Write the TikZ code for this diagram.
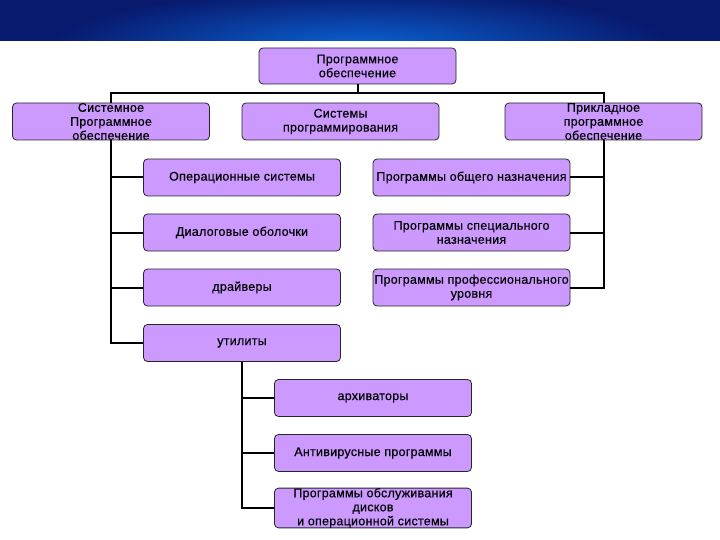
\documentclass[tikz,border=0pt]{standalone}
\usepackage{fontspec}
\setmainfont{Liberation Sans}[LetterSpace=2, FakeBold=0.4]
\usetikzlibrary{positioning}
\definecolor{boxfill}{RGB}{204,153,255}
\definecolor{navy}{RGB}{8,26,110}
\definecolor{lightblue}{RGB}{10,100,215}
\tikzset{
	box/.style={draw=black!85, line width=0.8pt, fill=boxfill, rounded corners=4pt,
		minimum height=37pt, inner xsep=1pt, inner ysep=0pt, align=center,
		font=\fontsize{12.5}{14}\selectfont},
	wide/.style={box, minimum width=197pt},
	conn/.style={line width=2pt, black}
}
\begin{document}
\begin{tikzpicture}[x=1pt, y=-1pt, node distance=55pt]
	\useasboundingbox (0,0) rectangle (720,540);
	% banner
	\fill[navy] (0,0) rectangle (720,41);
	\begin{scope}
		\clip (0,0) rectangle (720,41);
		\shade[inner color=lightblue, outer color=navy] (360,48) ellipse [x radius=310pt, y radius=58pt];
	\end{scope}

	\node (1) [wide, minimum height=36pt] at (357.5,66) {Программное\\обеспечение};
	\node (2) [wide] at (111,121.5) {Системное\\Программное\\обеспечение};
	\node (3) [wide] at (340.5,121.5) {Системы\\программирования};
	\node (4) [wide] at (603.5,121.5) {Прикладное\\программное\\обеспечение};

	\node (5) [wide] at (242,177.5) {Операционные системы};
	\node (6) [wide, below of=5] {Диалоговые оболочки};
	\node (7) [wide, below of=6] {драйверы};
	\node (8) [wide, below of=7, node distance=55.5pt] {утилиты};

	\node (9) [wide] at (471.5,177.5) {Программы общего назначения};
	\node (10) [wide, below of=9] {Программы специального\\назначения};
	\node (11) [wide, below of=10] {Программы профессионального\\уровня};

	\node (12) [wide] at (373,398) {архиваторы};
	\node (13) [wide, below of=12] {Антивирусные программы};
	\node (14) [wide, below of=13, node distance=55pt] {Программы обслуживания\\дисков\\и операционной системы};

	\coordinate (bar) at (357.5,93);
	\draw[conn] (1) -- (bar);
	\draw[conn] (2) |- (bar) -| (4);
	\foreach \n in {5,6,7,8}
		\draw[conn] (2) |- (\n);
	\foreach \n in {9,10,11}
		\draw[conn] (4) |- (\n);
	\foreach \n in {12,13,14}
		\draw[conn] (8) |- (\n);
\end{tikzpicture}
\end{document}
